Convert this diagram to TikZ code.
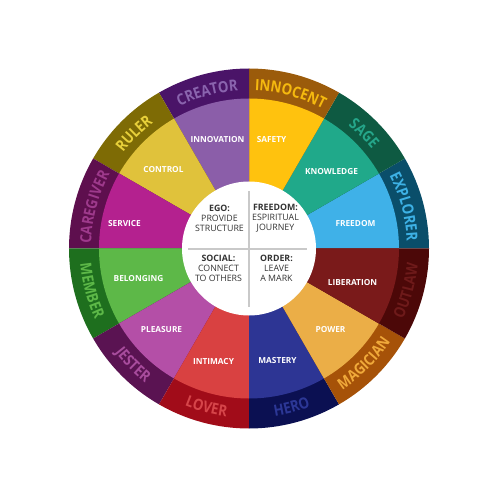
\documentclass[tikz,border=0pt]{standalone}
\usepackage{fontspec}
\setmainfont{Open Sans}
\newfontfamily\outerfam[FakeStretch=0.86]{Open Sans}
\usetikzlibrary{decorations.text}
% inner segment colours
\definecolor{iFreedom}{HTML}{3FB1E8}
\definecolor{iKnowledge}{HTML}{20A98A}
\definecolor{iSafety}{HTML}{FFC20E}
\definecolor{iInnovation}{HTML}{8B5EA9}
\definecolor{iControl}{HTML}{E0C23B}
\definecolor{iService}{HTML}{B4218F}
\definecolor{iBelonging}{HTML}{5DB848}
\definecolor{iPleasure}{HTML}{B44FA7}
\definecolor{iIntimacy}{HTML}{D94141}
\definecolor{iMastery}{HTML}{2D3594}
\definecolor{iPower}{HTML}{EBAE47}
\definecolor{iLiberation}{HTML}{7A1A1A}
% outer band colours
\definecolor{oExplorer}{HTML}{0A4E6A}
\definecolor{oSage}{HTML}{0E5A42}
\definecolor{oInnocent}{HTML}{9B5B0B}
\definecolor{oCreator}{HTML}{4A1468}
\definecolor{oRuler}{HTML}{7E6B05}
\definecolor{oCaregiver}{HTML}{5E0F4E}
\definecolor{oMember}{HTML}{1E6F1E}
\definecolor{oJester}{HTML}{5A1352}
\definecolor{oLover}{HTML}{A10C19}
\definecolor{oHero}{HTML}{0B1052}
\definecolor{oMagician}{HTML}{A65208}
\definecolor{oOutlaw}{HTML}{4C0808}
% outer text colours
\definecolor{tExplorer}{HTML}{3DB1E5}
\definecolor{tSage}{HTML}{25A68A}
\definecolor{tInnocent}{HTML}{F5B90F}
\definecolor{tCreator}{HTML}{8A64AE}
\definecolor{tRuler}{HTML}{E8D03A}
\definecolor{tCaregiver}{HTML}{9E3A8C}
\definecolor{tMember}{HTML}{5DB848}
\definecolor{tJester}{HTML}{A84C9D}
\definecolor{tLover}{HTML}{D6454A}
\definecolor{tHero}{HTML}{2C3796}
\definecolor{tMagician}{HTML}{F0A93A}
\definecolor{tOutlaw}{HTML}{6E1A1A}
\definecolor{crossgray}{HTML}{C9C9C9}
\definecolor{hubtext}{HTML}{333333}
\newcommand{\outerfont}{\outerfam\bfseries\fontsize{15.5}{16}\selectfont}
\tikzset{
  seglabel/.style={text=white, font=\bfseries\fontsize{8.3}{10}\selectfont, inner sep=0pt},
  hublabel/.style={text=hubtext, font=\fontsize{8.8}{10}\selectfont, align=center, inner sep=0pt},
  crossline/.style={draw=crossgray, line width=2pt},
}
\begin{document}
\begin{tikzpicture}[x=1pt,y=1pt]
\useasboundingbox (-249,-251.5) rectangle (251,248.5);
% wedges: outer band then inner segment
\foreach \a/\ci/\co in {0/iFreedom/oExplorer, 30/iKnowledge/oSage, 60/iSafety/oInnocent,
  90/iInnovation/oCreator, 120/iControl/oRuler, 150/iService/oCaregiver,
  180/iBelonging/oMember, 210/iPleasure/oJester, 240/iIntimacy/oLover,
  270/iMastery/oHero, 300/iPower/oMagician, 330/iLiberation/oOutlaw} {
  \fill[\co] (0,0) -- (\a:180) arc[start angle=\a, end angle=\a+30, radius=180] -- cycle;
  \fill[\ci] (0,0) -- (\a:150) arc[start angle=\a, end angle=\a+30, radius=150] -- cycle;
}
% outer names, upper half (clockwise, letters facing out)
\foreach \m/\t/\c in {15/EXPLORER/tExplorer, 45/SAGE/tSage, 75/INNOCENT/tInnocent,
  105/CREATOR/tCreator, 135/RULER/tRuler, 165/CAREGIVER/tCaregiver} {
  \path[decorate, decoration={text along path, text align=center,
      text={|\outerfont\color{\c}|\t}}]
    (\m+15:158) arc[start angle=\m+15, end angle=\m-15, radius=158];
}
% outer names, lower half (counter-clockwise, letters facing in)
\foreach \m/\t/\c in {195/MEMBER/tMember, 225/JESTER/tJester, 255/LOVER/tLover,
  285/HERO/tHero, 315/MAGICIAN/tMagician, 345/OUTLAW/tOutlaw} {
  \path[decorate, decoration={text along path, text align=center,
      text={|\outerfont\color{\c}|\t}}]
    (\m-15:169.5) arc[start angle=\m-15, end angle=\m+15, radius=169.5];
}
% hub
\fill[white] (0,0) circle[radius=67];
\coordinate (vt) at (0,57);
\coordinate (vb) at (0,-58);
\coordinate (hl) at (-61,-0.5);
\coordinate (hr) at (58,-0.5);
\draw[crossline] (vt) -- (vb);
\draw[crossline] (hl) -- (hr);
\node[hublabel] (ego) at (-29.5,30) {\textbf{EGO:}\\PROVIDE\\STRUCTURE};
\node[hublabel] (freedomhub) at (26.5,30) {\textbf{FREEDOM:}\\ESPIRITUAL\\JOURNEY};
\node[hublabel] (social) at (-30.5,-19.5) {\textbf{SOCIAL:}\\CONNECT\\TO OTHERS};
\node[hublabel] (order) at (27.5,-19.5) {\textbf{ORDER:}\\LEAVE\\A MARK};
% segment labels
\node[seglabel] (innovation) at (-31.5,108.5) {INNOVATION};
\node[seglabel] (control) at (-85.5,78.5) {CONTROL};
\node[seglabel] (service) at (-124.5,24.5) {SERVICE};
\node[seglabel] (safety) at (22.5,108.5) {SAFETY};
\node[seglabel] (knowledge) at (82.5,76.5) {KNOWLEDGE};
\node[seglabel] (freedom) at (106.5,24.5) {FREEDOM};
\node[seglabel] (belonging) at (-110.5,-30.5) {BELONGING};
\node[seglabel] (pleasure) at (-87.5,-81.5) {PLEASURE};
\node[seglabel] (intimacy) at (-35.5,-113.5) {INTIMACY};
\node[seglabel] (liberation) at (103.5,-34.5) {LIBERATION};
\node[seglabel] (power) at (81.5,-81.5) {POWER};
\node[seglabel] (mastery) at (28.5,-112.5) {MASTERY};
\end{tikzpicture}
\end{document}
